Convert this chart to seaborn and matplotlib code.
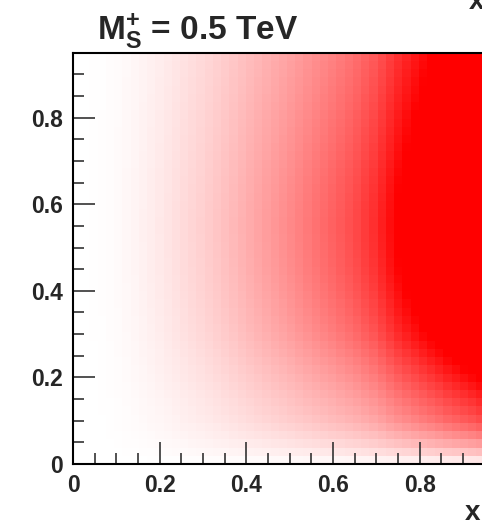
import numpy as np
import pandas as pd
import matplotlib
matplotlib.use("Agg")
import matplotlib.pyplot as plt
import seaborn as sns
from matplotlib.colors import LinearSegmentedColormap
from matplotlib.ticker import FixedLocator

# histogram binning (both axes), range 0..0.95
binw = 0.019
nbins = 50

# relative intensity along x, bin centres 0.0095 ... 0.9405 (read at y ~ 0.55)
x_profile = [0.0005, 0.002, 0.005, 0.009, 0.015, 0.022, 0.033, 0.045, 0.059, 0.074,
             0.09, 0.108, 0.127, 0.146, 0.165, 0.184, 0.206, 0.228, 0.252, 0.278,
             0.305, 0.332, 0.358, 0.385, 0.412, 0.438, 0.466, 0.496, 0.526, 0.557,
             0.587, 0.618, 0.651, 0.685, 0.723, 0.77, 0.815, 0.88, 0.95, 1.02,
             1.08, 1.14, 1.20, 1.26, 1.32, 1.39, 1.45, 1.51, 1.57, 1.64]

# relative intensity along y, bin centres 0.0095 ... 0.9405
y_profile = [0.06, 0.155, 0.24, 0.31, 0.375, 0.43, 0.47, 0.505, 0.543, 0.58,
             0.619, 0.657, 0.695, 0.733, 0.771, 0.809, 0.836, 0.859, 0.882, 0.9,
             0.919, 0.937, 0.952, 0.967, 0.976, 0.984, 0.99, 0.995, 0.999, 0.999,
             0.995, 0.99, 0.983, 0.975, 0.967, 0.955, 0.944, 0.933, 0.921, 0.91,
             0.898, 0.887, 0.876, 0.864, 0.853, 0.841, 0.83, 0.818, 0.807, 0.795]

major_ticks = [0, 0.2, 0.4, 0.6, 0.8]
tick_labels = ["0", "0.2", "0.4", "0.6", "0.8"]
minor_ticks = [0.05 * i for i in range(20)]

title = r"$\mathbf{M_{S}^{+}}$ = 0.5 TeV"

grid = pd.DataFrame(np.outer(y_profile, x_profile))

sns.set_style("white")
plt.rcParams["font.family"] = ["Liberation Sans", "DejaVu Sans"]
plt.rcParams["mathtext.fontset"] = "custom"
plt.rcParams["mathtext.bf"] = "Liberation Sans:bold"
plt.rcParams["mathtext.rm"] = "Liberation Sans"

fig = plt.figure(figsize=(4.82, 5.25), dpi=100)
ax = fig.add_axes([73 / 482, 61 / 525, 411.6 / 482, 411.3 / 525])

cmap = LinearSegmentedColormap.from_list("wr", ["#ffffff", "#ff0000"])
sns.heatmap(grid, ax=ax, cmap=cmap, vmin=0, vmax=1, cbar=False,
            xticklabels=False, yticklabels=False)
ax.set_xlim(0, nbins)
ax.set_ylim(0, nbins)
ax.set_axisbelow(False)

to_idx = lambda v: [t / binw for t in v]
ax.xaxis.set_major_locator(FixedLocator(to_idx(major_ticks)))
ax.yaxis.set_major_locator(FixedLocator(to_idx(major_ticks)))
ax.xaxis.set_minor_locator(FixedLocator(to_idx(minor_ticks)))
ax.yaxis.set_minor_locator(FixedLocator(to_idx(minor_ticks)))
ax.set_xticklabels(tick_labels, fontsize=16.5, fontweight="bold")
ax.set_yticklabels(tick_labels, fontsize=16.5, fontweight="bold", rotation=0)

ax.tick_params(which="both", direction="in", bottom=True, left=True,
               top=False, right=False, color="#333333", width=1.2)
ax.tick_params(axis="x", which="major", length=16, pad=7)
ax.tick_params(axis="y", which="major", length=16, pad=7)
ax.tick_params(which="minor", length=8)
ax.set_xlabel("")
ax.set_ylabel("")

for side in ["left", "bottom", "top", "right"]:
    ax.spines[side].set_visible(True)
    ax.spines[side].set_color("black")
    ax.spines[side].set_linewidth(1.5)
    ax.spines[side].set_zorder(5)

fig.text(97 / 482, 1 - 40 / 525, title, fontsize=24, fontweight="bold",
         ha="left", va="baseline")
fig.text(484 / 482, 1 - 9 / 525, "x", fontsize=20, fontweight="bold",
         ha="right", va="baseline")
fig.text(480 / 482, 1 - 520 / 525, "x", fontsize=20, fontweight="bold",
         ha="right", va="baseline")

fig.savefig("out.png", dpi=100)
